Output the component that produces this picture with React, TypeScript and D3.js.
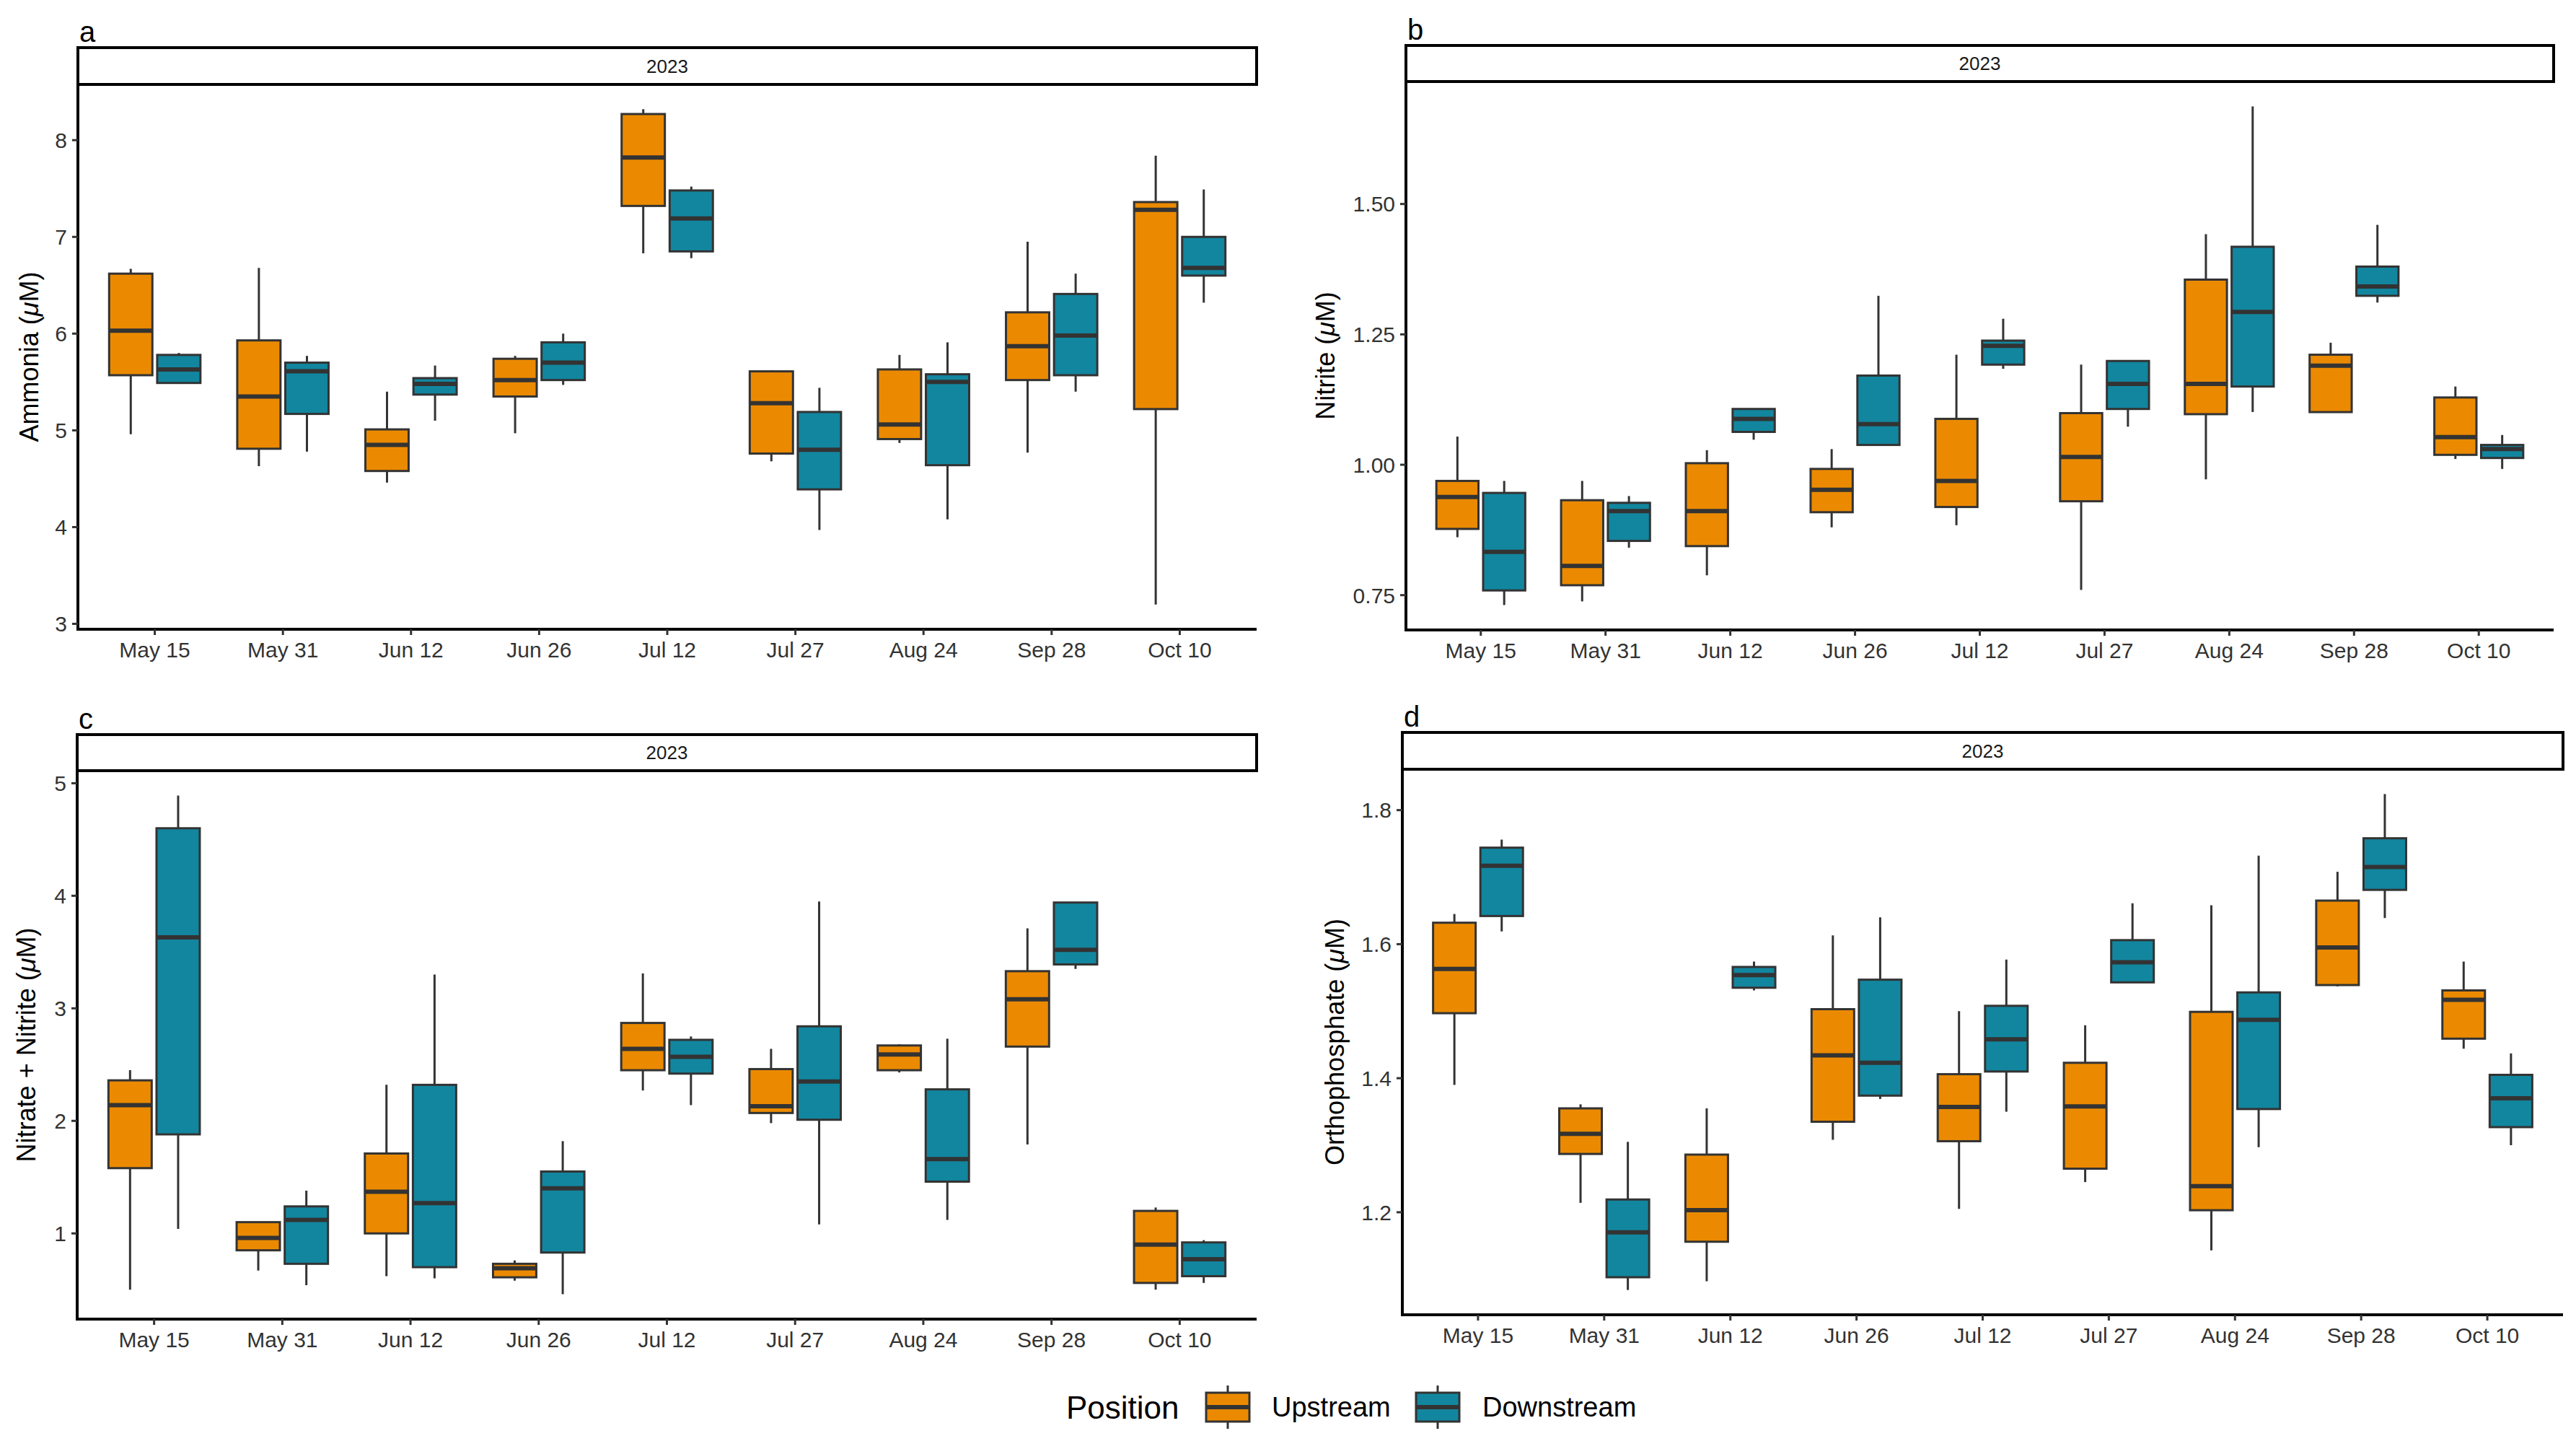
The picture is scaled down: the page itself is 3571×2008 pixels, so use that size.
import React from "react";
import * as d3 from "d3";

const W = 3571;
const H = 2008;

// sampling dates (x categories)
const dates = ["May 15", "May 31", "Jun 12", "Jun 26", "Jul 12", "Jul 27", "Aug 24", "Sep 28", "Oct 10"];
const positions = ["Upstream", "Downstream"];

// each entry: [lower whisker, q1, median, q3, upper whisker]
const ammoniaUp = [
  [4.96, 5.57, 6.03, 6.62, 6.67],
  [4.63, 4.81, 5.35, 5.93, 6.68],
  [4.46, 4.58, 4.85, 5.01, 5.4],
  [4.97, 5.35, 5.52, 5.74, 5.77],
  [6.83, 7.32, 7.82, 8.27, 8.32],
  [4.68, 4.76, 5.28, 5.61, 5.62],
  [4.87, 4.91, 5.06, 5.63, 5.78],
  [4.77, 5.52, 5.87, 6.22, 6.95],
  [3.2, 5.22, 7.28, 7.36, 7.84],
];
const ammoniaDown = [
  [5.48, 5.49, 5.63, 5.78, 5.8],
  [4.78, 5.17, 5.61, 5.7, 5.77],
  [5.1, 5.37, 5.48, 5.54, 5.67],
  [5.47, 5.52, 5.7, 5.91, 6.0],
  [6.78, 6.85, 7.19, 7.48, 7.52],
  [3.97, 4.39, 4.8, 5.19, 5.44],
  [4.08, 4.64, 5.5, 5.58, 5.91],
  [5.4, 5.57, 5.98, 6.41, 6.62],
  [6.32, 6.6, 6.68, 7.0, 7.49],
];

const nitriteUp = [
  [0.861, 0.877, 0.938, 0.969, 1.054],
  [0.738, 0.769, 0.806, 0.932, 0.969],
  [0.788, 0.844, 0.911, 1.003, 1.028],
  [0.88, 0.909, 0.952, 0.992, 1.03],
  [0.884, 0.919, 0.969, 1.088, 1.211],
  [0.76, 0.93, 1.015, 1.099, 1.192],
  [0.972, 1.097, 1.155, 1.355, 1.442],
  [1.101, 1.101, 1.19, 1.211, 1.234],
  [1.011, 1.019, 1.053, 1.129, 1.15],
];
const nitriteDown = [
  [0.731, 0.759, 0.833, 0.946, 0.969],
  [0.841, 0.854, 0.911, 0.927, 0.94],
  [1.048, 1.063, 1.088, 1.107, 1.107],
  [1.036, 1.038, 1.078, 1.171, 1.324],
  [1.184, 1.192, 1.228, 1.238, 1.28],
  [1.073, 1.107, 1.155, 1.199, 1.199],
  [1.101, 1.15, 1.293, 1.418, 1.687],
  [1.311, 1.324, 1.342, 1.38, 1.46],
  [0.992, 1.013, 1.03, 1.038, 1.057],
];

const nitrateUp = [
  [0.5, 1.58, 2.14, 2.36, 2.45],
  [0.67, 0.85, 0.96, 1.1, 1.1],
  [0.62, 1.0, 1.37, 1.71, 2.32],
  [0.58, 0.61, 0.69, 0.73, 0.76],
  [2.27, 2.45, 2.64, 2.87, 3.31],
  [1.98, 2.07, 2.13, 2.46, 2.64],
  [2.43, 2.45, 2.59, 2.67, 2.68],
  [1.79, 2.66, 3.08, 3.33, 3.71],
  [0.5, 0.56, 0.9, 1.2, 1.23],
];
const nitrateDown = [
  [1.04, 1.88, 3.63, 4.6, 4.89],
  [0.54, 0.73, 1.12, 1.24, 1.38],
  [0.6, 0.7, 1.27, 2.32, 3.3],
  [0.46, 0.83, 1.4, 1.55, 1.82],
  [2.14, 2.42, 2.57, 2.72, 2.75],
  [1.08, 2.01, 2.35, 2.84, 3.95],
  [1.12, 1.46, 1.66, 2.28, 2.73],
  [3.35, 3.39, 3.52, 3.94, 3.94],
  [0.56, 0.62, 0.77, 0.92, 0.94],
];

const phosphateUp = [
  [1.39, 1.497, 1.563, 1.632, 1.645],
  [1.214, 1.287, 1.317, 1.355, 1.361],
  [1.097, 1.156, 1.203, 1.286, 1.355],
  [1.308, 1.335, 1.434, 1.503, 1.613],
  [1.205, 1.306, 1.357, 1.406, 1.5],
  [1.245, 1.265, 1.358, 1.423, 1.479],
  [1.143, 1.203, 1.239, 1.499, 1.658],
  [1.537, 1.539, 1.595, 1.665, 1.708],
  [1.444, 1.459, 1.517, 1.531, 1.574],
];
const phosphateDown = [
  [1.619, 1.642, 1.717, 1.744, 1.756],
  [1.084, 1.103, 1.17, 1.219, 1.305],
  [1.531, 1.535, 1.554, 1.566, 1.574],
  [1.369, 1.374, 1.423, 1.547, 1.64],
  [1.35, 1.41, 1.458, 1.508, 1.577],
  [1.543, 1.543, 1.573, 1.606, 1.661],
  [1.297, 1.354, 1.487, 1.528, 1.732],
  [1.639, 1.681, 1.715, 1.758, 1.824],
  [1.3, 1.327, 1.37, 1.405, 1.437],
];

const ammoniaTicks = [3, 4, 5, 6, 7, 8];
const nitriteTicks = [0.75, 1.0, 1.25, 1.5];
const nitrateTicks = [1, 2, 3, 4, 5];
const phosphateTicks = [1.2, 1.4, 1.6, 1.8];

const colors = { Upstream: "#EB8A00", Downstream: "#12869F" };
const font = "'Liberation Sans', Arial, Helvetica, sans-serif";

const panels = [
  { tag: "a", name: "Ammonia", up: ammoniaUp, down: ammoniaDown, ticks: ammoniaTicks, fmt: "d",
    left: 108, right: 1742, stripTop: 66, top: 117, bottom: 872, titleX: 40 },
  { tag: "b", name: "Nitrite", up: nitriteUp, down: nitriteDown, ticks: nitriteTicks, fmt: ".2f",
    left: 1949, right: 3540, stripTop: 63, top: 113, bottom: 873, titleX: 1837 },
  { tag: "c", name: "Nitrate + Nitrite", up: nitrateUp, down: nitrateDown, ticks: nitrateTicks, fmt: "d",
    left: 107, right: 1742, stripTop: 1018, top: 1068, bottom: 1828, titleX: 36 },
  { tag: "d", name: "Orthophosphate", up: phosphateUp, down: phosphateDown, ticks: phosphateTicks, fmt: ".1f",
    left: 1944, right: 3553, stripTop: 1015, top: 1066, bottom: 1822, titleX: 1850 },
];

const Panel = ({ p }) => {
  const x = d3.scalePoint().domain(dates).range([p.left, p.right]).padding(0.6);
  const step = x.step();
  const all = [...p.up, ...p.down].flat();
  const [mn, mx] = d3.extent(all);
  const pad = (mx - mn) * 0.05;
  const y = d3.scaleLinear().domain([mn - pad, mx + pad]).range([p.bottom, p.top]);
  const slot = step * 0.375;
  const boxW = slot * 0.9;
  const fmt = d3.format(p.fmt);

  // build box records from the two series
  const boxes = [];
  dates.forEach((d, i) => {
    positions.forEach((pos, j) => {
      const v = (pos === "Upstream" ? p.up : p.down)[i];
      const cx = x(d) + (j === 0 ? -slot / 2 : slot / 2);
      boxes.push({ key: d + pos, cx, v, fill: colors[pos] });
    });
  });

  const midY = (p.top + p.bottom) / 2;

  return (
    <g>
      {/* panel letter */}
      <text x={p.left + 2} y={p.stripTop - 8} fontSize={40} fontFamily={font} fill="#000">{p.tag}</text>

      {/* strip */}
      <rect x={p.left} y={p.stripTop} width={p.right - p.left} height={p.top - p.stripTop}
        fill="#fff" stroke="#000" strokeWidth={4} />
      <text x={(p.left + p.right) / 2} y={(p.stripTop + p.top) / 2} dy="0.35em" textAnchor="middle"
        fontSize={26} fontFamily={font} fill="#1a1a1a">2023</text>

      {/* boxes */}
      {boxes.map((b) => (
        <g key={b.key}>
          <line x1={b.cx} x2={b.cx} y1={y(b.v[0])} y2={y(b.v[4])} stroke="#333" strokeWidth={3} />
          <rect x={b.cx - boxW / 2} y={y(b.v[3])} width={boxW} height={y(b.v[1]) - y(b.v[3])}
            fill={b.fill} stroke="#333" strokeWidth={3} />
          <line x1={b.cx - boxW / 2} x2={b.cx + boxW / 2} y1={y(b.v[2])} y2={y(b.v[2])}
            stroke="#333" strokeWidth={6} />
        </g>
      ))}

      {/* y axis */}
      <line x1={p.left} x2={p.left} y1={p.top} y2={p.bottom + 2} stroke="#000" strokeWidth={4} />
      {p.ticks.map((t) => (
        <g key={t}>
          <line x1={p.left - 8} x2={p.left} y1={y(t)} y2={y(t)} stroke="#333" strokeWidth={3} />
          <text x={p.left - 15} y={y(t)} dy="0.36em" textAnchor="end" fontSize={30}
            fontFamily={font} fill="#333">{fmt(t)}</text>
        </g>
      ))}

      {/* x axis */}
      <line x1={p.left - 2} x2={p.right} y1={p.bottom} y2={p.bottom} stroke="#000" strokeWidth={4} />
      {dates.map((d) => (
        <g key={d}>
          <line x1={x(d)} x2={x(d)} y1={p.bottom} y2={p.bottom + 8} stroke="#333" strokeWidth={3} />
          <text x={x(d)} y={p.bottom + 39} textAnchor="middle" fontSize={30} fontFamily={font}
            fill="#333">{d}</text>
        </g>
      ))}

      {/* y title */}
      <text transform={`translate(${p.titleX},${midY}) rotate(-90)`} dy="0.35em" textAnchor="middle"
        fontSize={36} fontFamily={font} fill="#000">
        {p.name} (<tspan fontStyle="italic">μ</tspan>M)
      </text>
    </g>
  );
};

const LegendKey = ({ x0, y0, fill }) => (
  <g>
    <line x1={x0 + 30} x2={x0 + 30} y1={y0 - 10} y2={y0 + 50} stroke="#333" strokeWidth={3} />
    <rect x={x0} y={y0} width={60} height={40} fill={fill} stroke="#333" strokeWidth={3} />
    <line x1={x0} x2={x0 + 60} y1={y0 + 20} y2={y0 + 20} stroke="#333" strokeWidth={6} />
  </g>
);

export default function App() {
  return (
    <svg width={W} height={H} style={{ position: "absolute", left: 0, top: 0, background: "#fff" }}>
      <rect width={W} height={H} fill="#fff" />
      {panels.map((p) => (
        <Panel key={p.tag} p={p} />
      ))}
      <g>
        <text x={1478} y={1966} fontSize={44} fontFamily={font} fill="#000">Position</text>
        <LegendKey x0={1672} y0={1930} fill={colors.Upstream} />
        <text x={1763} y={1963} fontSize={38} fontFamily={font} fill="#000">{positions[0]}</text>
        <LegendKey x0={1963} y0={1930} fill={colors.Downstream} />
        <text x={2055} y={1963} fontSize={38} fontFamily={font} fill="#000">{positions[1]}</text>
      </g>
    </svg>
  );
}
